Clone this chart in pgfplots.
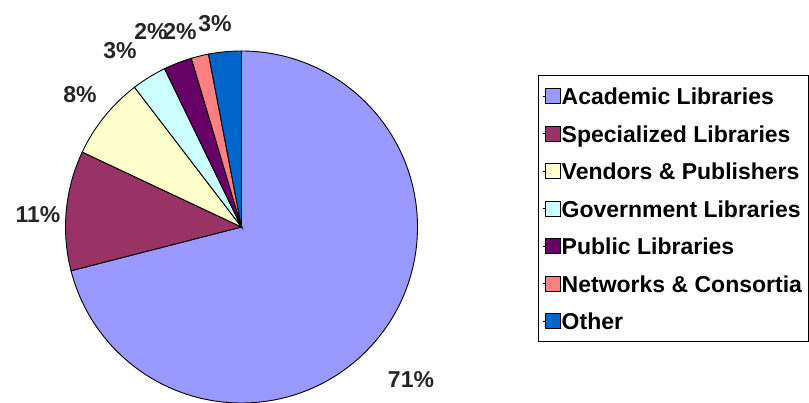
\documentclass[border=0pt]{standalone}
\usepackage{pgfplots}
\usepackage{pgfplotstable}
\pgfplotsset{compat=1.18}
\usepackage{fontspec}
\setmainfont{Liberation Sans}

\definecolor{cAcad}{HTML}{9999FF}
\definecolor{cSpec}{HTML}{993366}
\definecolor{cVend}{HTML}{FFFFCC}
\definecolor{cGov}{HTML}{CCFFFF}
\definecolor{cPub}{HTML}{660066}
\definecolor{cNet}{HTML}{FF8080}
\definecolor{cOth}{HTML}{0066CC}

% shares in percent, clockwise from 12 o'clock
\pgfplotstableread{
name value col
Academic 71.0 cAcad
Specialized 11.0 cSpec
Vendors 7.6 cVend
Government 3.2 cGov
Public 2.6 cPub
Networks 1.6 cNet
Other 3.0 cOth
}\piedata
\pgfplotstablecreatecol[create col/expr accum={\pgfmathaccuma + \thisrow{value}}{0}]{cum}\piedata

\pgfplotsset{
  pie square/.style={legend image code/.code={
    \path (0pt,0pt) -- (17pt,0pt);
    \draw[##1] (2pt,-7.5pt) rectangle (17pt,7.5pt);}},
}

\begin{document}
\begin{tikzpicture}
\begin{axis}[
    width=809pt, height=402pt,
    scale only axis,
    xmin=0, xmax=809, ymin=0, ymax=402,
    hide axis, clip=false,
    legend cell align=left,
    legend style={
      at={(axis cs:537.5,327)}, anchor=north west,
      draw=black, line width=0.8pt,
      font=\bfseries\fontsize{23}{25}\selectfont,
      row sep=13.5pt, inner xsep=5pt, inner ysep=8.5pt,
      nodes={inner sep=1pt, text height=20pt, text depth=2pt},
    },
]
\pgfplotsinvokeforeach{0,...,6}{
  \pgfplotstablegetelem{#1}{cum}\of\piedata \let\cumB\pgfplotsretval
  \pgfplotstablegetelem{#1}{value}\of\piedata \let\val\pgfplotsretval
  \pgfplotstablegetelem{#1}{col}\of\piedata \let\col\pgfplotsretval
  \pgfmathsetmacro\aEnd{90-3.6*\cumB}
  \pgfmathsetmacro\aStart{\aEnd+3.6*\val}
  \edef\slice{\noexpand\filldraw[fill=\col, draw=black, line width=0.9pt]
    (axis cs:241.5,175) -- ++(\aStart:176) arc[start angle=\aStart, end angle=\aEnd, radius=176] -- cycle;}
  \slice
}
\addlegendimage{pie square, fill=cAcad, draw=black, line width=0.8pt}
\addlegendentry{Academic Libraries}
\addlegendimage{pie square, fill=cSpec, draw=black, line width=0.8pt}
\addlegendentry{Specialized Libraries}
\addlegendimage{pie square, fill=cVend, draw=black, line width=0.8pt}
\addlegendentry{Vendors \& Publishers}
\addlegendimage{pie square, fill=cGov, draw=black, line width=0.8pt}
\addlegendentry{Government Libraries}
\addlegendimage{pie square, fill=cPub, draw=black, line width=0.8pt}
\addlegendentry{Public Libraries}
\addlegendimage{pie square, fill=cNet, draw=black, line width=0.8pt}
\addlegendentry{Networks \& Consortia}
\addlegendimage{pie square, fill=cOth, draw=black, line width=0.8pt}
\addlegendentry{Other}

\begin{scope}[font=\bfseries\fontsize{23}{25}\selectfont, text=black!85]
\node at (axis cs:411,22) {71\%};
\node at (axis cs:38,187) {11\%};
\node at (axis cs:80,307) {8\%};
\node at (axis cs:120,351) {3\%};
\node at (axis cs:151,370) {2\%};
\node at (axis cs:180,370) {2\%};
\node at (axis cs:215,378) {3\%};
\end{scope}
\end{axis}
\pgfresetboundingbox
\path[use as bounding box] (0,0) rectangle (809pt,402pt);
\end{tikzpicture}
\end{document}
